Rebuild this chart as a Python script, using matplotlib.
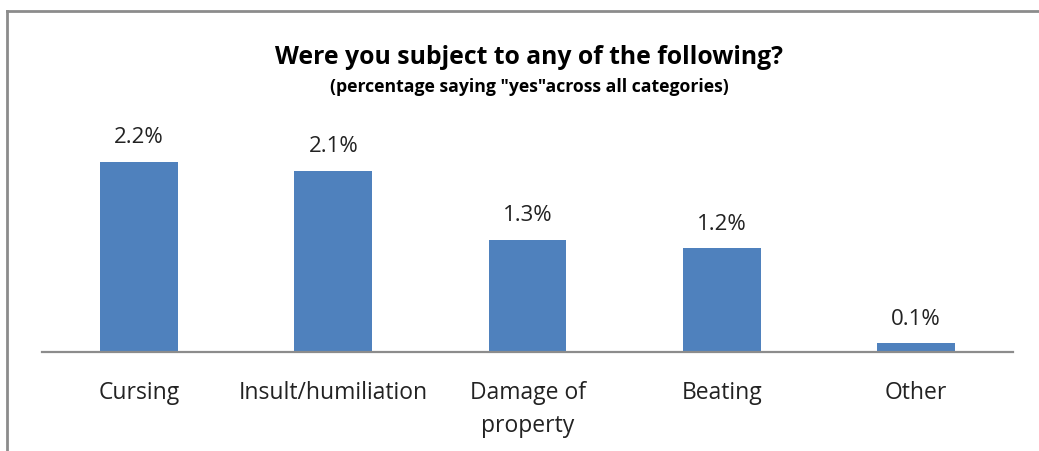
import matplotlib
matplotlib.use('Agg')
import numpy as np
from matplotlib import pyplot as plt
from matplotlib.lines import Line2D

#  survey results - share of respondents answering "yes"
categories = ['Cursing', 'Insult/humiliation', 'Damage of\nproperty', 'Beating', 'Other']
values = [2.2, 2.1, 1.3, 1.2, 0.1]
value_labels = ['2.2%', '2.1%', '1.3%', '1.2%', '0.1%']

plt.rcParams['font.family'] = ['Open Sans', 'DejaVu Sans']

W, H = 1039, 451
fig = plt.figure(figsize=(W / 100, H / 100), dpi=100)

#  plot area in pixel terms: baseline at y=352, 86.3 px per percent
left, right, base, top = 42, 1013, 352, 136
ax = fig.add_axes([left / W, (H - base) / H, (right - left) / W, (base - top) / H])

x = np.arange(len(categories))
ax.bar(x, values, width=0.4, color='#4F81BD', zorder=2)
ax.set_xlim(-0.5, len(categories) - 0.5)
ax.set_ylim(0, 2.5)

for xi, v, lab in zip(x, values, value_labels):
    ax.annotate(lab, (xi, v), xytext=(0, 17.5), textcoords='offset points',
                ha='center', va='center', fontsize=16, color='#222222')

ax.set_xticks(x)
ax.set_xticklabels(categories, fontsize=16.5, color='#222222', linespacing=1.5,
                   va='top')
ax.tick_params(axis='x', length=0, pad=21)
ax.set_yticks([])
for s in ['top', 'left', 'right']:
    ax.spines[s].set_visible(False)
ax.spines['bottom'].set_color('#8c8c8c')
ax.spines['bottom'].set_linewidth(1.6)

#  titles
fig.text(529 / W, 1 - 58 / H, 'Were you subject to any of the following?',
         ha='center', va='center', fontsize=17.8, fontweight='bold', color='black')
fig.text(529 / W, 1 - 87 / H, '(percentage saying "yes"across all categories)',
         ha='center', va='center', fontsize=12.7, fontweight='bold', color='black')

#  frame lines along the top and left edges
fig.add_artist(Line2D([7 / W, 1], [1 - 11 / H, 1 - 11 / H], transform=fig.transFigure,
                      color='#8c8c8c', linewidth=2))
fig.add_artist(Line2D([7 / W, 7 / W], [0, 1 - 11 / H], transform=fig.transFigure,
                      color='#8c8c8c', linewidth=2))

fig.savefig('out.png', dpi=100, facecolor='white')
